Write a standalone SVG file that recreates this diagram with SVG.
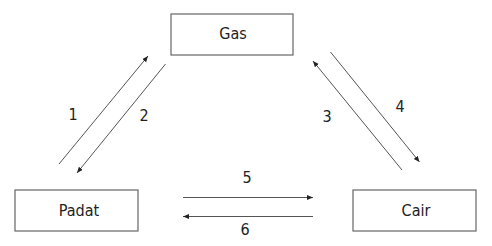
<svg xmlns="http://www.w3.org/2000/svg" width="492" height="246" viewBox="0 0 492 246">
  <defs>
    <marker id="ah" markerWidth="7" markerHeight="6" refX="6" refY="2.5" orient="auto" markerUnits="userSpaceOnUse">
      <path d="M0,0 L6,2.5 L0,5 z" fill="#222"/>
    </marker>
  </defs>
  <style>
    .box { fill: #fff; stroke: #666; stroke-width: 1.2; }
    .lbl { font-family: "DejaVu Sans Condensed", "DejaVu Sans", sans-serif; font-stretch: condensed; font-size: 16px; fill: #222; text-anchor: middle; }
    .conn { stroke: #555; stroke-width: 1; fill: none; marker-end: url(#ah); }
  </style>
  <rect width="492" height="246" fill="#fff"/>
  <g id="gas">
    <rect class="box" x="171" y="14" width="122" height="41"/>
    <text class="lbl" x="233" y="39">Gas</text>
  </g>
  <g id="padat">
    <rect class="box" x="15" y="190" width="123" height="41"/>
    <text class="lbl" x="79" y="216">Padat</text>
  </g>
  <g id="cair">
    <rect class="box" x="353" y="190" width="123" height="41"/>
    <text class="lbl" x="416" y="216">Cair</text>
  </g>
  <g id="connectors">
    <line class="conn" x1="59" y1="164" x2="148" y2="56"/>
    <line class="conn" x1="165.5" y1="64" x2="77" y2="173"/>
    <line class="conn" x1="402" y1="170" x2="313" y2="61"/>
    <line class="conn" x1="330.5" y1="52" x2="419.5" y2="162"/>
    <line class="conn" x1="183" y1="197.5" x2="313" y2="197.5"/>
    <line class="conn" x1="313" y1="216.5" x2="183" y2="216.5"/>
    <text class="lbl" x="73" y="120">1</text>
    <text class="lbl" x="144" y="121">2</text>
    <text class="lbl" x="327" y="122">3</text>
    <text class="lbl" x="400" y="112">4</text>
    <text class="lbl" x="247" y="183">5</text>
    <text class="lbl" x="245" y="235">6</text>
  </g>
</svg>
